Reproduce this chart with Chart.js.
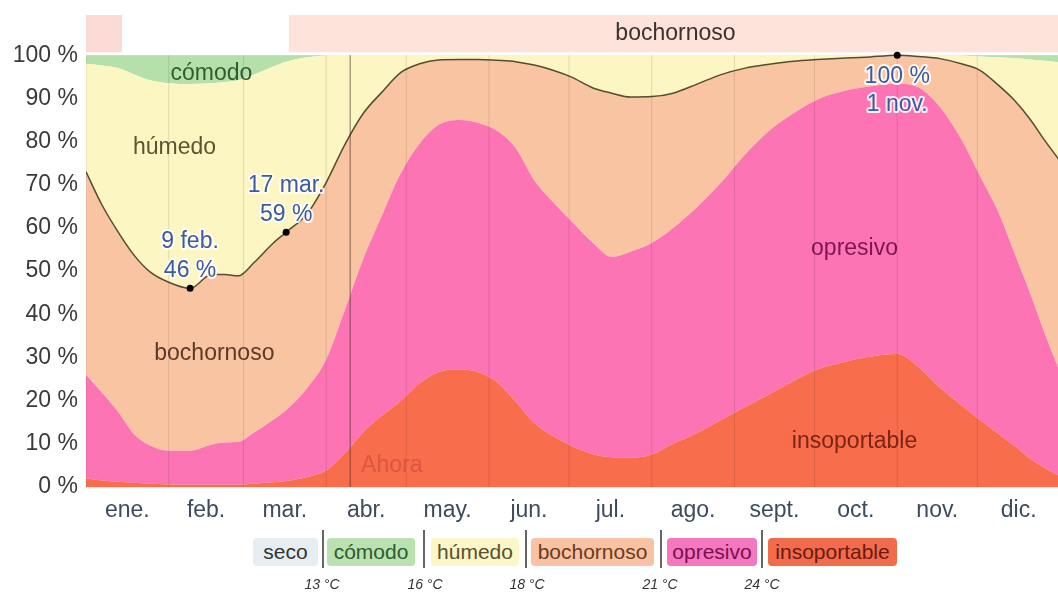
<!DOCTYPE html>
<html><head><meta charset="utf-8">
<script src="https://cdn.jsdelivr.net/npm/chart.js@4.4.1/dist/chart.umd.min.js"></script>
<style>
html,body{margin:0;padding:0;background:#fff;overflow:hidden;width:1058px;height:593px;}
#wrap{position:absolute;left:0;top:0;width:1064px;height:593px;}
#legend{position:absolute;left:0;top:0;width:1058px;height:593px;pointer-events:none;font-family:"Liberation Sans",Arial,sans-serif;}
.box{position:absolute;top:538px;height:28px;line-height:28px;font-size:21px;text-align:center;border-radius:4px;}
.sep{position:absolute;top:530px;height:38px;width:2px;background:#666;}
.tmp{position:absolute;top:576px;font-size:14px;font-style:italic;color:#333;width:60px;margin-left:-30px;text-align:center;}
</style></head><body>
<div id="wrap"><canvas id="c" width="1064" height="593"></canvas></div>
<div id="legend">
  <div class="box" style="left:253px;width:65px;background:#e6eef3;color:#333;">seco</div>
  <div class="sep" style="left:322px;"></div>
  <div class="box" style="left:327px;width:88px;background:#b9e2b0;color:#2f5a2f;">cómodo</div>
  <div class="sep" style="left:423px;"></div>
  <div class="box" style="left:431px;width:88px;background:#fbf7c6;color:#5a5030;">húmedo</div>
  <div class="sep" style="left:525px;"></div>
  <div class="box" style="left:531px;width:123px;background:#f9c3a3;color:#6a3a22;">bochornoso</div>
  <div class="sep" style="left:660px;"></div>
  <div class="box" style="left:667px;width:90px;background:#f577bd;color:#7a1050;">opresivo</div>
  <div class="sep" style="left:761px;"></div>
  <div class="box" style="left:768px;width:129px;background:#f26b4b;color:#6a1a10;">insoportable</div>
  <div class="tmp" style="left:322px;">13 °C</div>
  <div class="tmp" style="left:425px;">16 °C</div>
  <div class="tmp" style="left:527px;">18 °C</div>
  <div class="tmp" style="left:660px;">21 °C</div>
  <div class="tmp" style="left:762px;">24 °C</div>
</div>
<script>
// ---- data (day of year, % of time) ----
const days = [0,6,12,18,24,31,39,47,52,57,63,70,75,83,90,97,104,111,118,125,132,140,147,154,161,168,175,182,190,197,204,212,220,229,238,247,256,265,274,283,292,304,312,320,328,335,342,348,354,359,365];
// % of time "insoportable"
const miserable = [2,1.5,1.2,1,0.8,0.6,0.5,0.5,0.5,0.5,0.8,1.1,1.4,2.3,3.8,7.8,12.8,16.6,20,24,26.6,27.2,26.6,24.3,19.8,14.8,11.8,9.5,7.6,6.9,6.8,7.5,10,12.5,15.5,18.5,21.5,24.5,27.2,28.8,30,30.8,27.8,23,19,15.5,12.3,9.5,6.5,4.5,2.5];
// % of time "opresivo" or worse
const oppressiveOrWorse = [26,21.8,17.4,12.2,9.6,8.4,8.4,9.8,10.3,10.4,12.6,15.5,17.8,23,29.5,41,53,63,72.7,79.5,83.8,85,84.3,82.5,78.5,71,66,61.5,56.5,53.3,54.5,56.5,60,64.8,70.5,77,82.5,86.5,89.7,91.5,92.6,93.4,92.5,88,80.5,72,63.5,54,44.5,36,26.5];
// % of time "bochornoso" or worse (black line)
const muggyOrWorse = [73,65.3,59.1,53.7,49.8,47.4,46,49.2,49.2,48.9,52,56.4,59,63.4,70.5,79.3,86.6,91.5,96,98,98.9,99,99,98.8,98.5,97.7,96.5,94.9,92.4,91.2,90.3,90.4,91.2,93.3,95.5,97,97.9,98.6,99,99.3,99.5,100,99.7,99.2,98,96.5,93,89.5,85,80.5,75.5];
// % of time "húmedo" or worse
const humidOrWorse = [98,97.6,97,95.5,94.2,93.5,93.3,93.5,93.8,94.2,95.5,97.3,98.5,99.5,99.9,100,100,100,100,100,100,100,100,100,100,100,100,100,100,100,100,100,100,100,100,100,100,100,100,100,100,100,100,100,99.9,99.7,99.5,99.3,99,98.7,98.3];
// top band: day ranges where the band is shown
const bandRanges = [[0,13.5],[76,365]];
// highlighted points
const calloutDays = [39,75,304];
const calloutValues = [46,59,100];
const calloutDates = ['9 feb.','17 mar.','1 nov.'];
const nowDay = 99;
const monthStarts = [0,31,59,90,120,151,181,212,243,273,304,334,365];
const monthMids = [15.5,45,74.5,105,135.5,166,196.5,227.5,258,288.5,319,349.5];
const monthLabels = ['ene.','feb.','mar.','abr.','may.','jun.','jul.','ago.','sept.','oct.','nov.','dic.'];
const yTicks = [0,10,20,30,40,50,60,70,80,90,100];

const FONT = '"Liberation Sans", Arial, sans-serif';
const pts = arr => days.map((d,i)=>({x:d,y:arr[i]}));
const BAND_LO = 100.7, BAND_HI = 109.3;

const annot = {
  id:'annot',
  afterDatasetsDraw(chart){
    const {ctx, scales:{x,y}} = chart;
    ctx.save();
    ctx.font = '23px ' + FONT;
    ctx.textAlign = 'center'; ctx.textBaseline = 'middle';
    const labels = [
      ['cómodo',47,95.8,'#2f5d2f'],
      ['húmedo',33.2,78.5,'#595530'],
      ['bochornoso',48.1,30.8,'#5c3a28'],
      ['opresivo',288,55.1,'#7c1650'],
      ['insoportable',288,10.6,'#7c2414'],
      ['bochornoso',220.9,104.9,'#3c3030'],
      ['Ahora',114.6,4.9,'rgba(185,60,50,0.45)']
    ];
    for (const [t,d,v,c] of labels){
      ctx.fillStyle = c;
      ctx.fillText(t, x.getPixelForValue(d), y.getPixelForValue(v));
    }
    ctx.lineJoin = 'round';
    calloutDays.forEach((d,i)=>{
      const px = x.getPixelForValue(d), py = y.getPixelForValue(calloutValues[i]);
      const vTxt = calloutValues[i] + ' %';
      let lines;
      if (i < 2) lines = [[calloutDates[i], py-47],[vTxt, py-18]];
      else lines = [[vTxt, py+21],[calloutDates[i], py+49]];
      for (const [t,ty] of lines){
        ctx.strokeStyle = 'rgba(255,255,255,0.85)'; ctx.lineWidth = 4;
        ctx.strokeText(t, px, ty);
        ctx.fillStyle = '#3c5a9c';
        ctx.fillText(t, px, ty);
      }
    });
    ctx.restore();
  }
};

const lineBase = {pointRadius:0, borderWidth:0, cubicInterpolationMode:'monotone'};
const monthGrid = monthStarts.flatMap(m=>[{x:m,y:0},{x:m,y:100},{x:m,y:null}]);

new Chart(document.getElementById('c'), {
  type:'line',
  data:{
    datasets:[
      {data: calloutDays.map((d,i)=>({x:d,y:calloutValues[i]})), showLine:false, pointRadius:3.5, pointBackgroundColor:'#000', pointBorderWidth:0, fill:false},
      {data:[{x:nowDay,y:0},{x:nowDay,y:100}], borderColor:'rgba(70,40,40,0.55)', borderWidth:1.2, pointRadius:0, fill:false},
      {data: monthGrid, borderColor:'rgba(0,0,0,0.11)', borderWidth:1, pointRadius:0, fill:false, spanGaps:false},
      {...lineBase, data:pts(miserable), fill:'origin', backgroundColor:'#f86d4b'},
      {...lineBase, data:pts(oppressiveOrWorse), fill:3, backgroundColor:'#fd74b4'},
      {...lineBase, data:pts(muggyOrWorse), fill:4, backgroundColor:'#f9c4a2', borderWidth:1.5, borderColor:'rgba(70,60,35,0.9)'},
      {...lineBase, data:pts(humidOrWorse), fill:5, backgroundColor:'#fbf6c2'},
      {...lineBase, data:pts(humidOrWorse), fill:{value:100}, backgroundColor:'#b6e0a9'},
      ...bandRanges.map((r,i)=>({pointRadius:0, borderWidth:0, data:[{x:r[0],y:BAND_HI},{x:r[1],y:BAND_HI}], fill:{value:BAND_LO}, backgroundColor: i===0 ? '#fcdad6' : '#fde3da'}))
    ]
  },
  options:{
    responsive:false, animation:false, devicePixelRatio:1,
    layout:{padding:{top:15,left:0,right:0,bottom:0}},
    plugins:{legend:{display:false}, tooltip:{enabled:false}},
    scales:{
      x:{
        type:'linear', min:0, max:365,
        border:{display:false},
        afterBuildTicks(s){ s.ticks = monthMids.map(v=>({value:v})); },
        afterFit(s){ s.height = 106; s.paddingLeft = 0; s.paddingRight = 0; },
        grid:{display:false, drawTicks:false},
        ticks:{autoSkip:false, maxRotation:0, padding:10, color:'#3d4b5e', font:{family:FONT, size:23},
          callback:(v)=>{ const k = monthMids.indexOf(v); return k>=0 ? monthLabels[k] : ''; }}
      },
      y:{
        min:0, max:BAND_HI, z:1,
        border:{display:false},
        afterBuildTicks(s){ s.ticks = yTicks.map(v=>({value:v})); },
        afterFit(s){ s.width = 86; s.paddingTop = 0; s.paddingBottom = 0; },
        grid:{drawTicks:false, color:'rgba(0,0,0,0.07)'},
        ticks:{padding:8, color:'#3a3a3a', font:{family:FONT, size:23}, callback:(v)=> v + ' %'}
      }
    }
  },
  plugins:[annot]
});
</script>
</body></html>
